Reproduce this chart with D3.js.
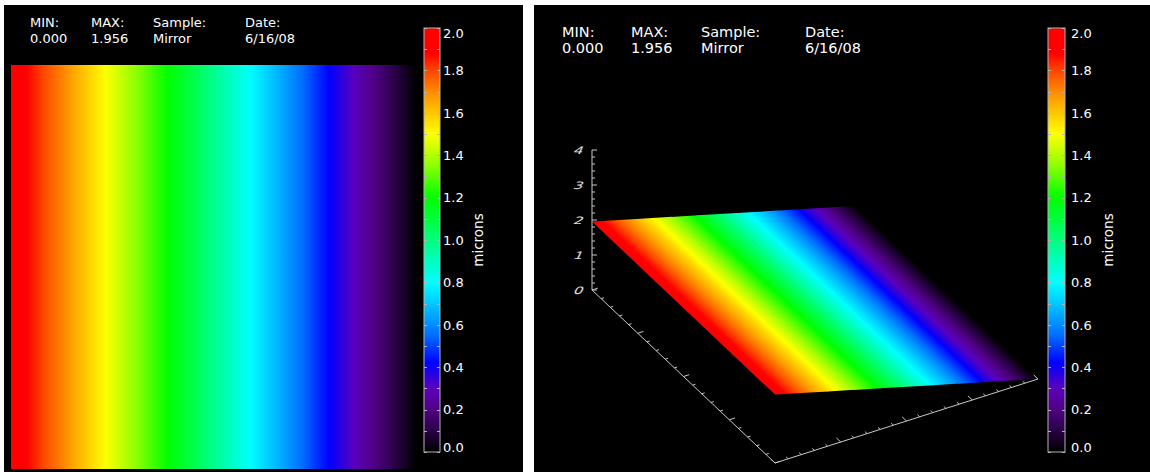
<!DOCTYPE html>
<html><head><meta charset="utf-8">
<script src="https://cdn.jsdelivr.net/npm/d3@7"></script>
<style>body{margin:0;background:#fff;overflow:hidden} svg{display:block}</style>
</head><body>
<svg id="chart" width="1150" height="472"></svg>
<script>
// ---------- data ----------
const headerLabels = ["MIN:", "MAX:", "Sample:", "Date:"];
const headerValues = ["0.000", "1.956", "Mirror", "6/16/08"];
// height profile across the mirror (left -> right), microns
const profile = [1.956, 1.760, 1.565, 1.369, 1.174, 0.978, 0.782, 0.587, 0.391, 0.196, 0.000];
const cbarTicks = [0.0, 0.2, 0.4, 0.6, 0.8, 1.0, 1.2, 1.4, 1.6, 1.8, 2.0];
const cbarMinor = [0.1, 0.3, 0.5, 0.7, 0.9, 1.1, 1.3, 1.5, 1.7, 1.9];
const zTicks = [0, 1, 2, 3, 4];
const unitLabel = "microns";
// colour table (value -> colour)
const cmapStops  = [0.00, 0.10, 0.20, 0.30, 0.42, 0.55, 0.70, 0.80, 0.95, 1.10, 1.20, 1.35, 1.50, 1.65, 1.80, 1.88, 2.00];
const cmapColors = ["#000000","#280046","#500082","#5a00be","#0000ff","#006eff","#00c8ff","#00ffff","#00ffa0","#00ff3c","#00ff00","#8cff00","#ffff00","#ffaa00","#ff4600","#ff0000","#ff0000"];

// ---------- setup ----------
const svg = d3.select("#chart");
const defs = svg.append("defs");
const cmap = d3.scaleLinear().domain(cmapStops).range(cmapColors).interpolate(d3.interpolateRgb).clamp(true);
const FONT = "DejaVu Sans, sans-serif";
const TXT = "#ffffff";
const AXC = "#c8c8c8";

const xFrac = d3.scaleLinear().domain([0, profile.length - 1]).range([0, 1]);

// gradient along the profile (fine sampling of the colour table)
const pg = defs.append("linearGradient").attr("id", "profGrad").attr("x1", 0).attr("x2", 1).attr("y1", 0).attr("y2", 0);
const N = 300;
d3.range(N + 1).forEach(k => {
  const t = k / N;
  const pos = xFrac.invert(t);
  const i = Math.min(Math.floor(pos), profile.length - 2);
  const v = d3.interpolateNumber(profile[i], profile[i + 1])(pos - i);
  pg.append("stop").attr("offset", t).attr("stop-color", cmap(v));
});
// colour bar gradient (bottom = 0, top = 2)
const cg = defs.append("linearGradient").attr("id", "cbarGrad").attr("x1", 0).attr("x2", 0).attr("y1", 1).attr("y2", 0);
d3.range(N + 1).forEach(k => {
  const t = k / N;
  cg.append("stop").attr("offset", t).attr("stop-color", cmap(2 * t));
});

const panels = [
  { bg: [4, 5, 519, 467], hx: [30, 91, 153, 245], hy1: 27, hy2: 43, hsize: 13,
    cb: { x: 424, w: 16, y0: 28, y1: 452, lx: 443, ux: 478 } },
  { bg: [534, 5, 616, 467], hx: [562, 631, 701, 805], hy1: 37, hy2: 53, hsize: 14.5,
    cb: { x: 1048, w: 17, y0: 28, y1: 452, lx: 1071, ux: 1108 } }
];

panels.forEach(p => {
  const g = svg.append("g");
  g.append("rect").attr("x", p.bg[0]).attr("y", p.bg[1]).attr("width", p.bg[2]).attr("height", p.bg[3]).attr("fill", "#000");
  // header
  headerLabels.forEach((lab, i) => {
    g.append("text").attr("x", p.hx[i]).attr("y", p.hy1).text(lab)
      .attr("fill", TXT).attr("font-family", FONT).attr("font-size", p.hsize);
    g.append("text").attr("x", p.hx[i]).attr("y", p.hy2).text(headerValues[i])
      .attr("fill", TXT).attr("font-family", FONT).attr("font-size", p.hsize);
  });
  // colour bar
  const cb = p.cb;
  const yS = d3.scaleLinear().domain([0, 2]).range([cb.y1, cb.y0]);
  g.append("rect").attr("x", cb.x).attr("y", cb.y0).attr("width", cb.w).attr("height", cb.y1 - cb.y0)
    .attr("fill", "url(#cbarGrad)").attr("stroke", "#b4b4b4").attr("stroke-width", 1);
  const tickG = g.append("g").attr("stroke", "#b4b4b4").attr("stroke-width", 1);
  cbarTicks.concat(cbarMinor).forEach(v => {
    const y = Math.round(yS(v)) + 0.5;
    tickG.append("line").attr("x1", cb.x).attr("x2", cb.x + 3).attr("y1", y).attr("y2", y);
    tickG.append("line").attr("x1", cb.x + cb.w - 3).attr("x2", cb.x + cb.w).attr("y1", y).attr("y2", y);
  });
  cbarTicks.forEach((v, i) => {
    let y = yS(v) + 4.7;
    if (i === cbarTicks.length - 1) y = yS(v) + 9.5;
    if (i === 0) y = yS(v);
    g.append("text").attr("x", cb.lx).attr("y", y).text(d3.format(".1f")(v))
      .attr("fill", TXT).attr("font-family", FONT).attr("font-size", 13);
  });
  g.append("text").attr("transform", `translate(${cb.ux},240) rotate(-90)`)
    .attr("text-anchor", "middle").attr("dy", "0.35em").text(unitLabel)
    .attr("fill", TXT).attr("font-family", FONT).attr("font-size", 13.5);
});

// ---------- left: image ----------
const imgX = d3.scaleLinear().domain([0, profile.length - 1]).range([11, 416]);
svg.append("rect").attr("x", imgX(0)).attr("y", 65).attr("width", imgX(profile.length - 1) - imgX(0)).attr("height", 404)
  .attr("fill", "url(#profGrad)");

// ---------- right: 3D surface ----------
const O = [592, 290];
const UX = [263, -84];   // x axis (across profile)
const UY = [183, 173];   // y axis (along mirror)
const zS = d3.scaleLinear().domain([0, 4]).range([0, -140]);
const yFrac = d3.scaleLinear().domain([0, 1]).range([0, 1]);
function project(xf, yf, z) {
  return [O[0] + xf * UX[0] + yf * UY[0], O[1] + xf * UX[1] + yf * UY[1] + zS(z)];
}
const sg = svg.append("g");
for (let i = 0; i < profile.length - 1; i++) {
  const A = project(xFrac(i), yFrac(0), profile[i]);
  const D = project(xFrac(i + 1), yFrac(0), profile[i + 1]);
  const B = project(xFrac(i), yFrac(1), profile[i]);
  const a = D[0] - A[0], b = D[1] - A[1], c = B[0] - A[0], d = B[1] - A[1];
  const gid = "sg" + i;
  const gr = defs.append("linearGradient").attr("id", gid).attr("x1", 0).attr("x2", 1).attr("y1", 0).attr("y2", 0);
  d3.range(31).forEach(k => {
    const t = k / 30;
    gr.append("stop").attr("offset", t).attr("stop-color", cmap(d3.interpolateNumber(profile[i], profile[i + 1])(t)));
  });
  sg.append("g").attr("transform", `matrix(${a},${b},${c},${d},${A[0]},${A[1]})`)
    .append("rect").attr("x", 0).attr("y", 0).attr("width", i < profile.length - 2 ? 1.03 : 1).attr("height", 1)
    .attr("fill", `url(#${gid})`);
}

// axes
const ag = svg.append("g").attr("stroke", AXC).attr("stroke-width", 1).attr("fill", "none");
function line(p, q) { ag.append("line").attr("x1", p[0]).attr("y1", p[1]).attr("x2", q[0]).attr("y2", q[1]); }
// z axis
line(project(0, 0, 0), project(0, 0, 4));
d3.range(0, 4.0001, 0.2).forEach((z, k) => {
  const p = project(0, 0, z);
  const len = k % 5 === 0 ? 5 : 3;
  line(p, [p[0] + len, p[1]]);
});
// front (y) axis
line(project(0, 0, 0), project(0, 1, 0));
const ux = [UX[0] / Math.hypot(...UX), UX[1] / Math.hypot(...UX)];
const uy = [UY[0] / Math.hypot(...UY), UY[1] / Math.hypot(...UY)];
d3.range(0, 21).forEach(k => {
  const p = project(0, k / 20, 0);
  const len = k % 5 === 0 ? 6 : 3;
  line(p, [p[0] + ux[0] * len, p[1] + ux[1] * len]);
});
// right (x) axis
line(project(0, 1, 0), project(1, 1, 0));
d3.range(0, 21).forEach(k => {
  const p = project(k / 20, 1, 0);
  const len = k % 5 === 0 ? 6 : 3;
  line(p, [p[0] - uy[0] * len, p[1] - uy[1] * len]);
});
// z labels
zTicks.forEach(z => {
  const p = project(0, 0, z);
  svg.append("text").attr("transform", `translate(${p[0] - 10},${p[1] + 4}) skewX(-25) scale(1.25,0.85)`)
    .attr("text-anchor", "end").text(z)
    .attr("fill", "#e0e0e0").attr("font-family", FONT).attr("font-size", 12);
});
</script>
</body></html>
